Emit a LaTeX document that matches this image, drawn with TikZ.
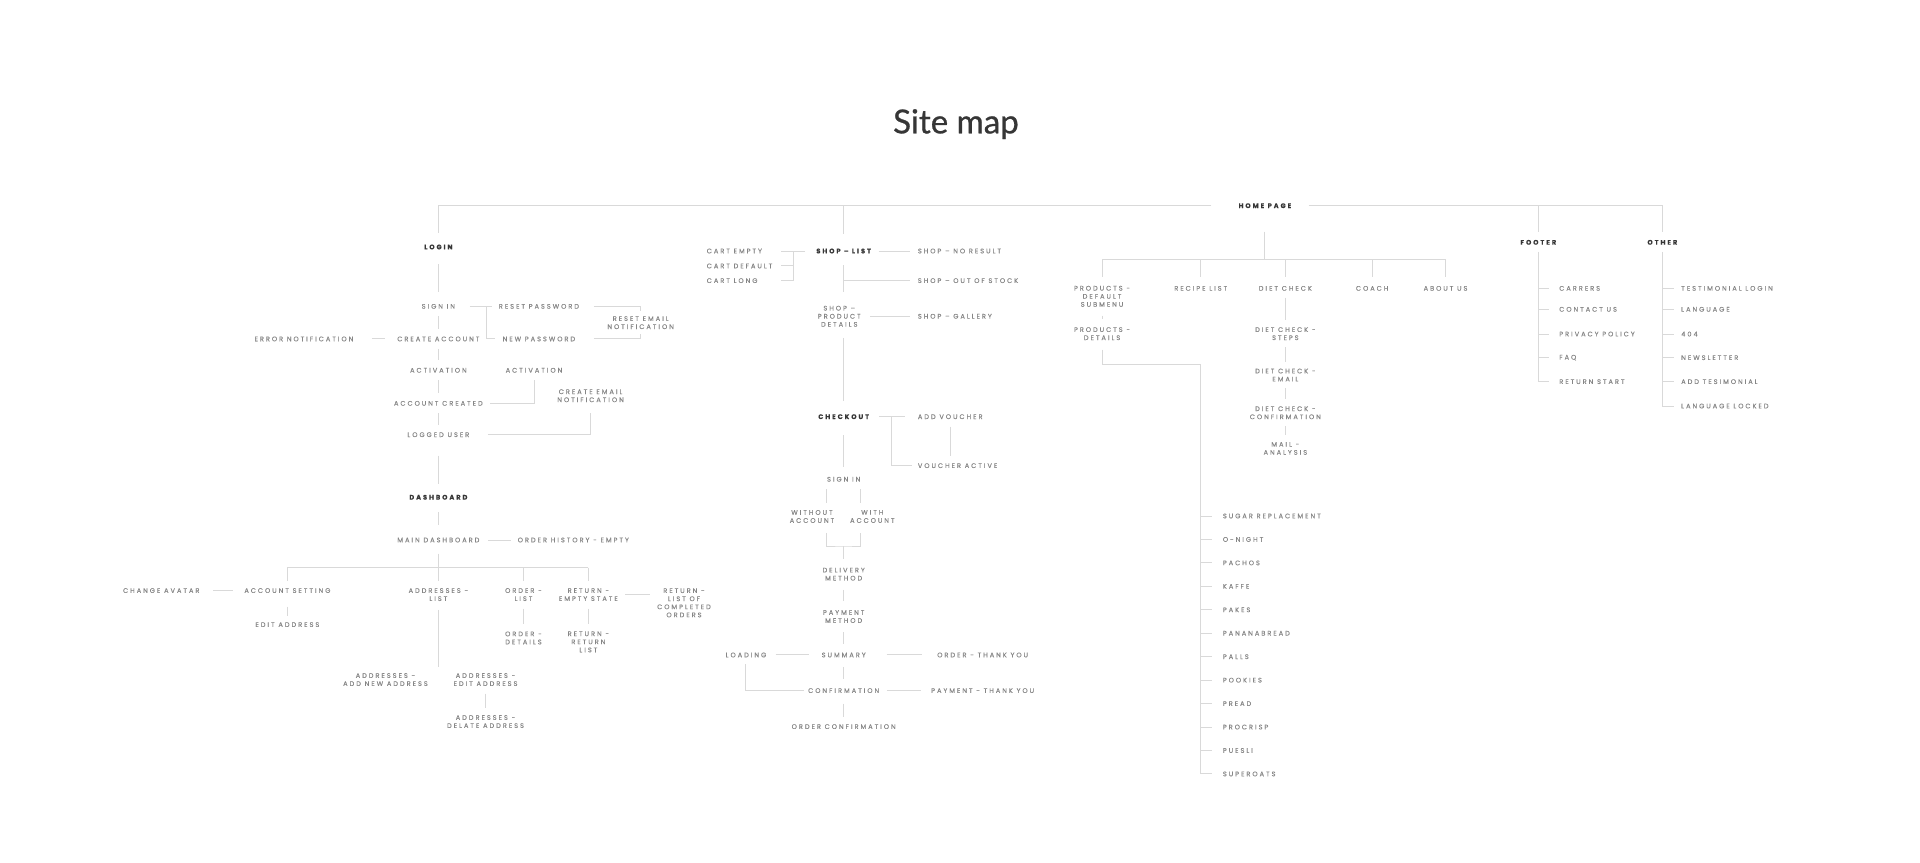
\documentclass[tikz,border=0pt]{standalone}
\usepackage{fontspec}
\setmainfont{Lato}
\newfontfamily\titlefont[FakeBold=0.8]{Lato}
\newfontfamily\mapfont[LetterSpace=30, FakeBold=0.25]{Poppins}
\usetikzlibrary{calc}
\definecolor{linegray}{HTML}{D9D9D9}
\definecolor{textgray}{HTML}{868686}
\definecolor{headgray}{HTML}{363636}
\tikzset{
  lbl/.style={inner sep=0pt, text=textgray, align=center, font=\mapfont\fontsize{5.4}{6.6}\selectfont},
  hdr/.style={lbl, text=headgray, font=\mapfont\bfseries\fontsize{5.4}{6.6}\selectfont},
  wire/.style={draw=linegray, line width=0.8pt},
  conn/.style={wire, shorten <=6pt, shorten >=6pt},
}

\begin{document}
\begin{tikzpicture}[x=1pt, y=-1pt]
	\useasboundingbox (0,0) rectangle (1568,704);

	\node[font=\titlefont\fontsize{27}{32}\selectfont, text=headgray, anchor=base] (title) at (780.7,108.9) {Site map};

	% home page
	\node[hdr] (home) at (1033,168) {HOME PAGE};
	\node[lbl] (products) at (900,242) {PRODUCTS -\\DEFAULT\\SUBMENU};
	\node[lbl] (recipes) at (980.6,235.5) {RECIPE LIST};
	\node[lbl] (diet) at (1049.7,235.5) {DIET CHECK};
	\node[lbl] (coach) at (1120.6,235.5) {COACH};
	\node[lbl] (about) at (1180.5,235.5) {ABOUT US};
	\node[lbl] (proddetail) at (900,272.5) {PRODUCTS -\\DETAILS};
	\node[lbl] (dietsteps) at (1049.7,272.5) {DIET CHECK -\\STEPS};
	\node[lbl] (dietmail) at (1049.7,306.3) {DIET CHECK -\\EMAIL};
	\node[lbl] (dietconf) at (1049.7,337.1) {DIET CHECK -\\CONFIRMATION};
	\node[lbl] (analysis) at (1049.7,366.2) {MAIL -\\ANALYSIS};
	\coordinate (homebar) at (1033,211.8);
	\coordinate (prodbar) at (980.6,297.3);
	\foreach \t [count=\i] in {SUGAR REPLACEMENT,O-NIGHT,PACHOS,KAFFE,PAKES,PANANABREAD,PALLS,POOKIES,PREAD,PROCRISP,PUESLI,SUPEROATS}
		\node[lbl, anchor=west] (item\i) at (998.5,{421.4+19.15*(\i-1)}) {\t};

	% login
	\node[hdr] (login) at (358,201.7) {LOGIN};
	\node[lbl] (signin) at (358,250.2) {SIGN IN};
	\node[lbl] (createacc) at (358,276.8) {CREATE ACCOUNT};
	\node[lbl] (activation) at (358,302.4) {ACTIVATION};
	\node[lbl] (acccreated) at (358,329.4) {ACCOUNT CREATED};
	\node[lbl] (logged) at (358,355) {LOGGED USER};
	\node[lbl] (resetpw) at (440.1,250.2) {RESET PASSWORD};
	\node[lbl] (newpw) at (440.1,276.8) {NEW PASSWORD};
	\node[lbl] (resetmail) at (523.2,263.5) {RESET EMAIL\\NOTIFICATION};
	\node[lbl] (errnote) at (248.2,276.8) {ERROR NOTIFICATION};
	\node[lbl] (activmail) at (436.1,302.4) {ACTIVATION};
	\node[lbl] (createmail) at (482.3,323.2) {CREATE EMAIL\\NOTIFICATION};
	\coordinate (pwfork) at (397.3,250.2);

	% dashboard
	\node[hdr] (dashboard) at (358,406.1) {DASHBOARD};
	\node[lbl] (maindash) at (358,441) {MAIN DASHBOARD};
	\node[lbl] (orderhist) at (468.2,441) {ORDER HISTORY - EMPTY};
	\node[lbl] (accset) at (234.7,482.3) {ACCOUNT SETTING};
	\node[lbl] (chavatar) at (131.7,482.3) {CHANGE AVATAR};
	\node[lbl] (editaddr) at (234.7,510.1) {EDIT ADDRESS};
	\node[lbl] (addrlist) at (358,485.6) {ADDRESSES -\\LIST};
	\node[lbl] (orderlist) at (427.5,485.6) {ORDER -\\LIST};
	\node[lbl] (orderdet) at (427.5,521) {ORDER -\\DETAILS};
	\node[lbl] (retempty) at (480.5,485.6) {RETURN -\\EMPTY STATE};
	\node[lbl] (retlist) at (480.5,524.2) {RETURN -\\RETURN\\LIST};
	\node[lbl] (retdone) at (558.6,492.3) {RETURN -\\LIST OF\\COMPLETED\\ORDERS};
	\node[lbl] (addrnew) at (314.8,555) {ADDRESSES -\\ADD NEW ADDRESS};
	\node[lbl] (addredit) at (396.5,555) {ADDRESSES -\\EDIT ADDRESS};
	\node[lbl] (addrdel) at (396.5,589.3) {ADDRESSES -\\DELATE ADDRESS};
	\coordinate (dashbar) at (358,463.5);
	\coordinate (addrend) at (358,544.4);

	% shop
	\node[hdr] (shoplist) at (689,205) {SHOP – LIST};
	\node[lbl, anchor=west] (cartempty) at (577,205) {CART EMPTY};
	\node[lbl, anchor=west] (cartdefault) at (577,217.2) {CART DEFAULT};
	\node[lbl, anchor=west] (cartlong) at (577,229.2) {CART LONG};
	\node[lbl, anchor=west] (noresult) at (749.4,205) {SHOP – NO RESULT};
	\node[lbl, anchor=west] (outstock) at (749.4,229.2) {SHOP – OUT OF STOCK};
	\node[lbl] (proddet) at (685.4,258.3) {SHOP –\\PRODUCT\\DETAILS};
	\node[lbl, anchor=west] (gallery) at (749.4,258.3) {SHOP – GALLERY};
	\node[hdr] (checkout) at (689,340.3) {CHECKOUT};
	\node[lbl, anchor=west] (addvoucher) at (749.4,340.3) {ADD VOUCHER};
	\node[lbl, anchor=west] (voucheron) at (749.4,380.3) {VOUCHER ACTIVE};
	\node[lbl] (signinshop) at (689,391.4) {SIGN IN};
	\node[lbl] (noacc) at (663.1,421.8) {WITHOUT\\ACCOUNT};
	\node[lbl] (withacc) at (712.4,421.8) {WITH\\ACCOUNT};
	\node[lbl] (delivery) at (689,468.9) {DELIVERY\\METHOD};
	\node[lbl] (payment) at (689,503.5) {PAYMENT\\METHOD};
	\node[lbl] (summary) at (689,534.9) {SUMMARY};
	\node[lbl] (loading) at (609.2,534.9) {LOADING};
	\node[lbl] (orderthx) at (802.5,534.9) {ORDER - THANK YOU};
	\node[lbl] (confirm) at (689,564) {CONFIRMATION};
	\node[lbl] (paythx) at (802.5,564) {PAYMENT - THANK YOU};
	\node[lbl] (orderconf) at (689,593.4) {ORDER CONFIRMATION};
	\coordinate (cartfork) at (648.4,205);
	\coordinate (cartend) at (637.8,205);
	\coordinate (voucherfork) at (727.9,340.3);
	\coordinate (colL) at (674.8,0);
	\coordinate (colR) at (702.6,0);
	\coordinate (accfork) at (689,445.9);

	% footer and other
	\node[hdr] (footer) at (1256.3,197.9) {FOOTER};
	\node[hdr] (other) at (1357.6,197.9) {OTHER};
	\foreach \t/\y [count=\i] in {CARRERS/235.5,CONTACT US/252.6,PRIVACY POLICY/272.8,FAQ/292.1,RETURN START/311.7}
		\node[lbl, anchor=west] (foot\i) at (1273.2,\y) {\t};
	\foreach \t/\y [count=\i] in {TESTIMONIAL LOGIN/235.5,LANGUAGE/252.6,404/272.8,NEWSLETTER/292.1,ADD TESIMONIAL/311.7,LANGUAGE LOCKED/331.6}
		\node[lbl, anchor=west] (oth\i) at (1372.8,\y) {\t};

	% top line
	\draw[wire, shorten <=22pt, shorten >=9pt] (home.west) -| (login.north);
	\draw[wire, shorten <=14pt, shorten >=6pt] (home.east) -| (other.north);
	\draw[wire, shorten >=12pt] (shoplist.north |- home) -- (shoplist.north);
	\draw[wire, shorten >=6pt] (footer.north |- home) -- (footer.north);

	% login connectors
	\draw[conn, shorten <=12pt, shorten >=10pt] (login.south) -- (signin.north);
	\foreach \a/\b in {signin/createacc,createacc/activation,activation/acccreated,acccreated/logged}
		\draw[conn] (\a.south) -- (\b.north);
	\draw[conn, shorten <=15pt, shorten >=9pt] (logged.south) -- (dashboard.north);
	\draw[conn, shorten <=12pt, shorten >=5pt] (signin.east) -- (resetpw.west);
	\draw[wire, shorten >=6pt] (pwfork) |- (newpw.west);
	\draw[conn, shorten <=12pt, shorten >=4pt] (resetpw.east) -| (resetmail.north);
	\draw[conn, shorten <=15pt, shorten >=4pt] (newpw.east) -| (resetmail.south);
	\draw[conn, shorten <=15pt, shorten >=10pt] (errnote.east) -- (createacc.west);
	\draw[conn] (acccreated.east) -| (activmail.south);
	\draw[conn, shorten <=15pt, shorten >=9pt] (logged.east) -| (createmail.south);

	% dashboard connectors
	\draw[conn, shorten <=10pt, shorten >=10pt] (dashboard.south) -- (maindash.north);
	\draw[conn, shorten <=7pt, shorten >=5pt] (maindash.east) -- (orderhist.west);
	\draw[conn, shorten <=9pt] (maindash.south) -- (addrlist.north);
	\draw[wire] (accset.north |- dashbar) -- (retempty.north |- dashbar);
	\foreach \n in {accset,orderlist,retempty}
		\draw[wire, shorten >=6pt] (\n.north |- dashbar) -- (\n.north);
	\draw[conn, shorten <=11pt, shorten >=9pt] (chavatar.east) -- (accset.west);
	\draw[conn, shorten <=11pt, shorten >=5pt] (accset.south) -- (editaddr.north);
	\draw[wire, shorten <=7pt] (addrlist.south) -- (addrend);
	\draw[conn] (addredit.south) -- (addrdel.north);
	\draw[conn] (orderlist.south) -- (orderdet.north);
	\draw[conn] (retempty.south) -- (retlist.north);
	\draw[conn] (retempty.east) -- (retempty.east -| retdone.west);

	% shop connectors
	\draw[wire, shorten <=9pt] (shoplist.west) -- (cartend);
	\draw[wire] (cartfork) -- (cartfork |- cartlong) -- (cartend |- cartlong);
	\draw[wire] (cartfork |- cartdefault) -- (cartend |- cartdefault);
	\draw[conn] (shoplist.east) -- (noresult.west);
	\draw[conn, shorten <=9.5pt, shorten >=11.4pt] (shoplist.south) -- (shoplist.south |- proddet.north);
	\draw[wire, shorten >=6pt] (shoplist.south |- outstock) -- (outstock.west);
	\draw[conn, shorten <=7.6pt] (proddet.east) -- (gallery.west);
	\draw[conn, shorten <=9pt, shorten >=11pt] (shoplist.south |- proddet.south) -- (checkout.north);
	\draw[conn, shorten <=8pt, shorten >=10pt] (checkout.east) -- (addvoucher.west);
	\draw[wire, shorten >=4.4pt] (voucherfork) |- (voucheron.west);
	\draw[conn] (addvoucher.south) -- (addvoucher.south |- voucheron.north);
	\draw[conn, shorten <=13pt, shorten >=8pt] (checkout.south) -- (signinshop.north);
	\foreach \c/\n in {colL/noacc,colR/withacc}
		\draw[conn] (\c |- signinshop.south) -- (\c |- \n.north);
	\draw[wire, shorten <=8pt, shorten >=8pt] (colL |- noacc.south) |- (accfork) -| (colR |- withacc.south);
	\draw[wire, shorten >=7pt] (accfork) -- (accfork |- delivery.north);
	\draw[conn, shorten <=7.5pt, shorten >=7pt] (delivery.south) -- (payment.north);
	\draw[conn, shorten <=7.5pt, shorten >=7pt] (payment.south) -- (summary.north);
	\draw[conn, shorten <=7.5pt, shorten >=10pt] (loading.east) -- (summary.west);
	\draw[conn, shorten <=17pt, shorten >=12.5pt] (summary.east) -- (orderthx.west);
	\draw[conn, shorten <=5.5pt, shorten >=3.3pt] (loading.south) |- (confirm.west);
	\draw[conn, shorten <=7.5pt, shorten >=7pt] (summary.south) -- (confirm.north);
	\draw[conn, shorten <=6pt, shorten >=8pt] (confirm.east) -- (paythx.west);
	\draw[conn, shorten <=8.5pt, shorten >=6pt] (confirm.south) -- (orderconf.north);

	% home connectors
	\draw[wire, shorten <=19pt] (home.south) -- (homebar);
	\draw[wire] (products.north |- homebar) -- (about.north |- homebar);
	\foreach \n in {products,recipes,diet,coach,about}
		\draw[wire, shorten >=7pt] (\n.north |- homebar) -- (\n.north);
	\draw[conn, shorten <=7pt, shorten >=6.5pt] (products.south) -- (proddetail.north);
	\draw[wire, shorten <=7.6pt, shorten >=9pt] (proddetail.south) |- (prodbar) |- (item12.west);
	\foreach \i in {1,...,11}
		\draw[wire, shorten >=9pt] (prodbar |- item\i.west) -- (item\i.west);
	\foreach \a/\b in {diet/dietsteps,dietsteps/dietmail,dietmail/dietconf,dietconf/analysis}
		\draw[conn, shorten <=5.5pt, shorten >=5.5pt] (\a.south) -- (\b.north);

	% footer and other connectors
	\draw[wire, shorten <=5.7pt, shorten >=8pt] (footer.south) |- (foot5.west);
	\foreach \i in {1,...,4}
		\draw[wire, shorten >=8pt] (footer.south |- foot\i.west) -- (foot\i.west);
	\draw[wire, shorten <=5.7pt, shorten >=6pt] (other.south) |- (oth6.west);
	\foreach \i in {1,...,5}
		\draw[wire, shorten >=6pt] (other.south |- oth\i.west) -- (oth\i.west);
\end{tikzpicture}
\end{document}
